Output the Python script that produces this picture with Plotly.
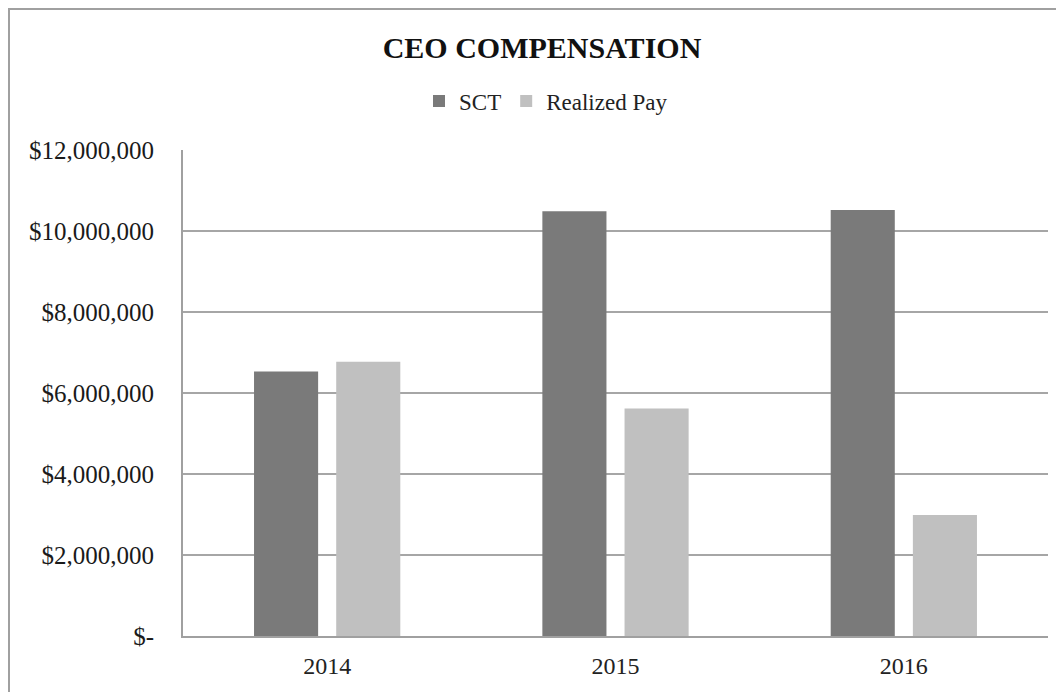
import plotly.graph_objects as go

years = ["2014", "2015", "2016"]
sct = [6530000, 10490000, 10520000]
realized = [6770000, 5620000, 2990000]
tick_vals = [0, 2000000, 4000000, 6000000, 8000000, 10000000, 12000000]
tick_text = ["$-", "$2,000,000", "$4,000,000", "$6,000,000", "$8,000,000", "$10,000,000", "$12,000,000"]

FONT = "Liberation Serif, Times New Roman, serif"

fig = go.Figure()
fig.add_trace(go.Bar(name="SCT", x=years, y=sct, marker=dict(color="#7a7a7a", line=dict(width=0))))
fig.add_trace(go.Bar(name="Realized Pay", x=years, y=realized, marker=dict(color="#c0c0c0", line=dict(width=0))))

OFF = 8  # browser body margin
W, H = 1064 - OFF, 692 - OFF
# target plot area in page pixels: x 183..1048, y 150..636
L, R, T, B = 183 - OFF, 1064 - 1048, 150 - OFF, 692 - 636
pw, ph = W - L - R, H - T - B

def px_x(p):
    return (p - OFF - L) / pw

def px_y(p):
    return (H - B - (p - OFF)) / ph

fig.update_layout(
    width=W, height=H,
    margin=dict(l=L, r=R, t=T, b=B),
    paper_bgcolor="white", plot_bgcolor="white",
    font=dict(family=FONT, color="#222222", size=20),
    title=dict(text="<b>CEO COMPENSATION</b>", x=(542 - OFF) / W, xanchor="center",
               y=1 - (47 - OFF) / H, yanchor="middle", font=dict(size=30, color="#111111", family=FONT)),
    barmode="group", bargap=0.43, bargroupgap=0.22,
    showlegend=True,
    legend=dict(orientation="h", x=(546 - OFF) / W, xref="container", xanchor="center",
                y=1 - (101 - OFF) / H, yref="container", yanchor="middle",
                font=dict(size=23, family=FONT, color="#222222"), itemwidth=30, traceorder="normal"),
    xaxis=dict(showgrid=False, showline=True, linecolor="#a0a0a0", linewidth=2,
               ticks="", tickfont=dict(size=24, family=FONT, color="#222222"), ticklabelstandoff=7),
    yaxis=dict(range=[0, 12000000], tickvals=tick_vals, ticktext=tick_text,
               showgrid=True, gridcolor="#a6a6a6", gridwidth=1.5,
               showline=True, linecolor="#a0a0a0", linewidth=2, zeroline=False,
               ticks="", ticklabelstandoff=22, tickfont=dict(size=25, family=FONT, color="#1a1a1a")),
    shapes=[dict(type="rect", xref="paper", yref="paper",
                 x0=px_x(9), x1=px_x(1100), y0=px_y(720), y1=px_y(9),
                 line=dict(color="#a0a0a0", width=2), fillcolor="rgba(0,0,0,0)", layer="below")],
)

fig.write_html("out.html")
